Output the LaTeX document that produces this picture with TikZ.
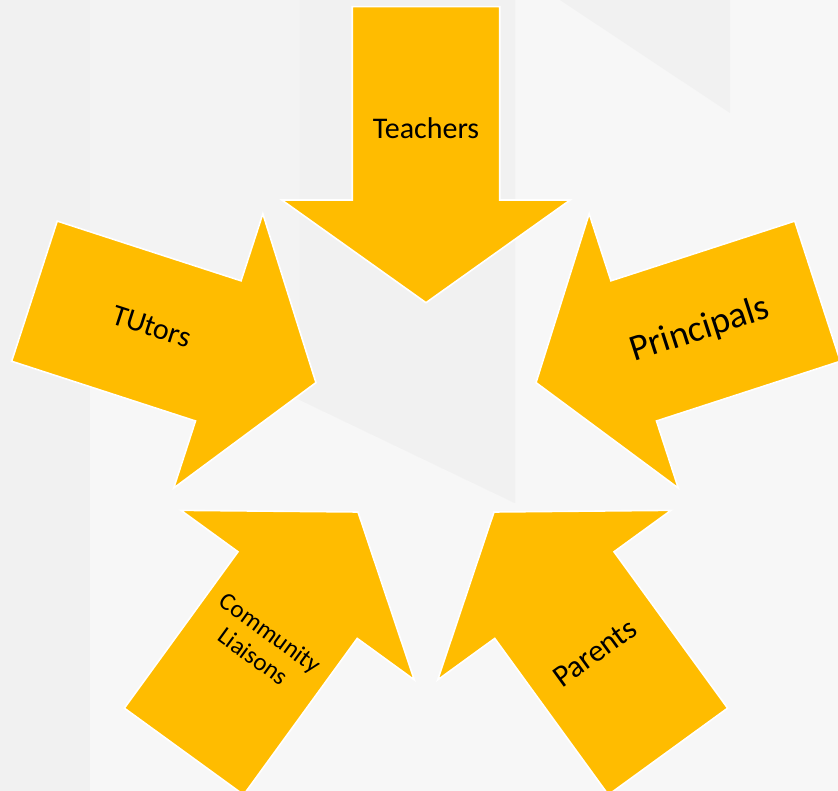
\documentclass[tikz,border=0pt]{standalone}
\usepackage{fontspec}
\setmainfont{Carlito}
\definecolor{gold}{HTML}{FFBC00}
\definecolor{bgbase}{HTML}{F7F7F7}
\definecolor{bgdark}{HTML}{F1F1F1}
\definecolor{bgmid}{HTML}{F3F3F3}
\tikzset{
  arrowshape/.style={fill=gold, draw=white, line width=1.6pt, line join=miter},
  lbl/.style={text=black, inner sep=0pt, align=center}
}
\newcommand{\inarrow}[1]{%
  \path[arrowshape, rotate=#1] (-73.7,411.7) -- (73.7,411.7) -- (73.7,218.4) -- (144.2,218.4)
    -- (0,115.7) -- (-144.2,218.4) -- (-73.7,218.4) -- cycle;}
\begin{document}
\begin{tikzpicture}[x=1pt,y=1pt]
\useasboundingbox (-426,-372.6) rectangle (412,418.4);
\clip (-426,-372.6) rectangle (412,418.4);
% background (image coordinates)
\begin{scope}[shift={(-426,418.4)}, yscale=-1]
  \fill[bgbase] (0,0) rectangle (838,791);
  \fill[bgmid] (90,0) -- (515,0) -- (515,503) -- (300,400) -- (90,300) -- cycle;
  \fill[bgdark] (0,0) rectangle (90,791);
  \fill[bgdark] (560,0) -- (730,0) -- (730,113) -- cycle;
  \fill[bgdark] (300,0) -- (515,0) -- (515,503) -- (300,400) -- cycle;
\end{scope}
% arrows
\inarrow{0}
\inarrow{72}
\inarrow{144}
\inarrow{216}
\inarrow{288}
% labels
\node[lbl, font=\fontsize{30}{35}\selectfont] (teachers) at (0,290.4) {Teachers};
\node[lbl, font=\fontsize{30}{35}\selectfont, rotate=-18] (tutors) at (-274.3,91.7) {TUtors};
\node[lbl, font=\fontsize{37}{43}\selectfont, rotate=18] (principals) at (274,88.4) {Principals};
\node[lbl, font=\fontsize{31}{36}\selectfont, rotate=36] (parents) at (169,-234.6) {Parents};
\node[lbl, font=\fontsize{25}{29}\selectfont, rotate=-36] (community) at (-164,-226) {Community\\Liaisons};
\end{tikzpicture}
\end{document}
